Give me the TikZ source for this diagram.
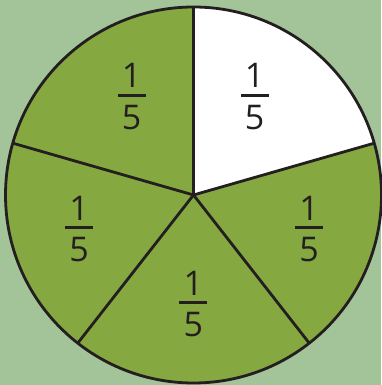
\documentclass[tikz,border=0pt]{standalone}
\usepackage{fontspec}
\setmainfont{Open Sans}
\usepackage{xcolor}
\definecolor{backdrop}{HTML}{A3C398}
\definecolor{leaf}{HTML}{86A840}
\definecolor{ink}{HTML}{231F20}
\usetikzlibrary{positioning}

\begin{document}
\begin{tikzpicture}[x=1pt, y=1pt,
  digit/.style={font=\fontsize{34}{40}\selectfont, text=ink, inner sep=0pt},
  fifth/.style={fill=ink, inner sep=0pt, minimum width=28pt, minimum height=3pt,
    label={[digit, label distance=5.5pt]above:1},
    label={[digit, label distance=8pt]below:5}}]
  \useasboundingbox[fill=backdrop] (0,0) rectangle (381,385);
  \coordinate (centre) at (193.5,190);

  % the whole disc, then the one white part
  \fill[leaf] (centre) circle[radius=188];
  \fill[white] (centre) -- ++(90:188) arc[start angle=90, end angle=16, radius=188] -- cycle;

  % spokes and rim
  \foreach \a in {90,16,-52,-128,164}
    \draw[line width=2.8pt, ink] (centre) -- ++(\a:188);
  \draw[line width=2.8pt, ink] (centre) circle[radius=188];

  \node[fifth] (topright) at (254.5,289.7) {};
  \node[fifth] (topleft) at (131.7,289.7) {};
  \node[fifth] (right) at (309,157.3) {};
  \node[fifth] (left) at (79,157.3) {};
  \node[fifth] (bottom) at (193.3,82.3) {};
\end{tikzpicture}
\end{document}
